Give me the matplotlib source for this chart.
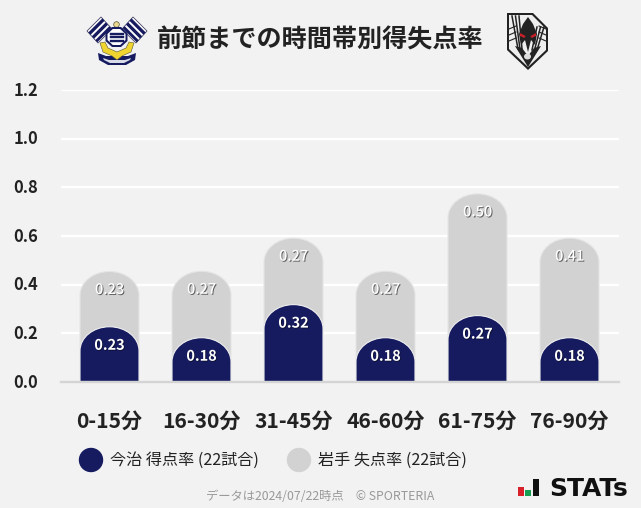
import matplotlib as mpl
mpl.use('Agg')
import matplotlib.pyplot as plt
import matplotlib.patheffects as pe
from matplotlib.patches import PathPatch, Polygon, Circle, Ellipse
from matplotlib.path import Path
from matplotlib.transforms import ScaledTranslation

plt.rcParams['font.family'] = ['Noto Sans CJK JP', 'DejaVu Sans']

periods = ['0-15分', '16-30分', '31-45分', '46-60分', '61-75分', '76-90分']
imabari_scored = [0.227, 0.182, 0.318, 0.182, 0.273, 0.182]
iwate_conceded = [0.227, 0.273, 0.273, 0.273, 0.500, 0.409]
y_ticks = [0.0, 0.2, 0.4, 0.6, 0.8, 1.0, 1.2]

W, H = 641, 508
BG = '#f2f2f2'
NAVY = '#161b60'
GRAY = '#d2d2d2'
BAR_W = 59 / 92
CAP_H = 24 / 243.5  # cap height in data units


def px(size):
    return size * 72 / 100


def round_bar(ax, x, top, color, edge, zorder):
    # bar with an elliptical top
    l, r = x - BAR_W / 2, x + BAR_W / 2
    s = top - CAP_H
    k = 0.5523
    verts = [(l, 0), (l, s),
             (l, s + k * CAP_H), (x - k * BAR_W / 2, top), (x, top),
             (x + k * BAR_W / 2, top), (r, s + k * CAP_H), (r, s),
             (r, 0), (l, 0)]
    codes = [Path.MOVETO, Path.LINETO,
             Path.CURVE4, Path.CURVE4, Path.CURVE4,
             Path.CURVE4, Path.CURVE4, Path.CURVE4,
             Path.LINETO, Path.CLOSEPOLY]
    ax.add_patch(PathPatch(Path(verts, codes), facecolor=color, edgecolor=edge,
                           linewidth=0.8, zorder=zorder))


fig = plt.figure(figsize=(W / 100, H / 100), dpi=100, facecolor=BG)
ax = fig.add_axes([61 / W, 1 - 382 / H, 558 / W, 292 / H], facecolor=BG)
ax.set_xlim(-48.5 / 92, 5 + 49.5 / 92)
ax.set_ylim(0, 1.2)

ax.set_yticks(y_ticks)
ax.set_yticklabels(['%.1f' % v for v in y_ticks], fontsize=px(16.5), fontweight='bold', color='#222222')
ax.set_xticks(range(len(periods)))
ax.set_xticklabels(periods, fontsize=px(21), fontweight='bold', color='#222222')
ax.tick_params(axis='y', length=0, pad=px(22.5))
ax.tick_params(axis='x', length=0, pad=px(29))
up = ScaledTranslation(0, 1.5 / 100, fig.dpi_scale_trans)
for lab in ax.get_yticklabels():
    lab.set_transform(lab.get_transform() + up)
ax.grid(axis='y', color='white', linewidth=px(2.4), zorder=1)
ax.set_axisbelow(True)
for name in ['top', 'right', 'left']:
    ax.spines[name].set_visible(False)
ax.spines['bottom'].set_color('#d4d4d4')
ax.spines['bottom'].set_linewidth(px(2.4))
ax.spines['bottom'].set_zorder(5)

for i, (a, b) in enumerate(zip(imabari_scored, iwate_conceded)):
    round_bar(ax, i, a + b, GRAY, '#e4e4e4', 2)
    round_bar(ax, i, a, NAVY, '#f0f0f0', 3)
    ax.annotate('%.2f' % a, (i, a), xytext=(0, -px(19)), textcoords='offset points',
                ha='center', va='center', fontsize=px(14.5), fontweight='bold', color='white', zorder=6,
                path_effects=[pe.withSimplePatchShadow(offset=(0.6, -0.6), shadow_rgbFace='#000000', alpha=0.5)])
    ax.annotate('%.2f' % b, (i, a + b), xytext=(0, -px(18.5)), textcoords='offset points',
                ha='center', va='center', fontsize=px(14.5), fontweight='medium', color='white', zorder=6,
                path_effects=[pe.withSimplePatchShadow(offset=(0.7, -0.7), shadow_rgbFace='#555555', alpha=0.9)])

# overlay in pixel coordinates for title, logos, legend and footer
ov = fig.add_axes([0, 0, 1, 1])
ov.set_xlim(0, W)
ov.set_ylim(H, 0)
ov.axis('off')
ov.patch.set_alpha(0)

ov.text(320.5, 40, '前節までの時間帯別得失点率', ha='center', va='center',
        fontsize=px(25.1), fontweight='bold', color='#222222')

# legend
ov.add_patch(Circle((91, 460), 11.5, color=NAVY))
ov.text(110, 460, '今治 得点率 (22試合)', ha='left', va='center', fontsize=px(16.1), color='#222222')
ov.add_patch(Circle((299, 460), 11.5, color=GRAY))
ov.text(318, 460, '岩手 失点率 (22試合)', ha='left', va='center', fontsize=px(16.1), color='#222222')

# footer
ov.text(320.5, 496.5, 'データは2024/07/22時点　© SPORTERIA', ha='center', va='center',
        fontsize=px(12.3), color='#999999')


def poly(points, color, z=10, edge='none', lw=0):
    ov.add_patch(Polygon(points, closed=True, facecolor=color, edgecolor=edge, linewidth=lw, zorder=z))


def lerp(p, q, t):
    return (p[0] + (q[0] - p[0]) * t, p[1] + (q[1] - p[1]) * t)


# Imabari crest (simplified)
for sgn in [-1, 1]:
    f = lambda x: 117 + sgn * x
    A, B, C, D = (f(30), 31), (f(16), 17), (f(5), 29), (f(19), 43)
    poly([A, B, C, D], 'white', edge='#444466', lw=0.6)
    for t0, t1 in [(0.12, 0.32), (0.44, 0.64), (0.76, 0.94)]:
        poly([lerp(A, D, t0), lerp(B, C, t0), lerp(B, C, t1), lerp(A, D, t1)], NAVY, z=11)
poly([(100, 43), (105, 42), (108, 48), (117, 52), (126, 48), (129, 42), (134, 43), (131, 52), (122, 56), (117, 60), (112, 56), (103, 52)],
     '#f0d430', z=12, edge='#555533', lw=0.4)
poly([(112, 27), (121, 27), (127.5, 33), (127.5, 41), (121, 47), (112, 47), (105.5, 41), (105.5, 33)], NAVY, z=13)
poly([(112.8, 29), (120.2, 29), (125.5, 34), (125.5, 40), (120.2, 45), (112.8, 45), (107.5, 40), (107.5, 34)], 'white', z=14)
for yy in [33.5, 37, 40.5]:
    ov.plot([110.5, 122.5], [yy, yy], color=NAVY, lw=1.7, zorder=15)
ov.add_patch(Circle((116.5, 24.5), 2.8, facecolor='#e8d890', edgecolor='#555533', linewidth=0.5, zorder=12))
poly([(98, 53), (106, 56), (128, 56), (136, 53), (135, 60), (126, 65), (108, 65), (99, 60)], NAVY, z=11)
poly([(103, 58), (109, 60), (125, 60), (131, 58), (130, 60), (124, 63), (110, 63), (104, 60)], '#d8dce8', z=14)

# Iwate crest (simplified)
poly([(507, 13), (533, 13), (548, 28), (548, 51), (528, 70), (507, 50)], '#222222')
poly([(509, 15), (532, 15), (546, 29), (546, 50), (528, 67), (509, 49)], '#eeeeee', z=10.2)
for x0, x1 in [(512, 517), (515.5, 519), (519, 521)]:
    ov.plot([x0, x1 + 1], [16, 49], color='#222222', lw=1.1, zorder=10.4)
for x0, x1 in [(544, 538), (540.5, 535.5), (537, 533)]:
    ov.plot([x0, x1 - 1], [27, 50], color='#222222', lw=1.1, zorder=10.4)
for yy in [26, 32, 38]:
    ov.plot([509, 516], [yy + 3, yy], color='#222222', lw=0.8, zorder=10.4)
    ov.plot([539, 546], [yy, yy + 3], color='#222222', lw=0.8, zorder=10.4)
poly([(528, 17), (533, 24), (537, 34), (535, 45), (531, 40), (528, 52), (525, 40), (521, 45), (519, 34), (523, 24)], '#222222', z=11)
poly([(515, 46), (522, 48), (528, 56), (534, 48), (541, 46), (528, 67)], '#222222', z=11)
poly([(520, 33), (525.5, 36), (524.5, 38), (520, 36)], '#c8202a', z=12)
poly([(536, 33), (530.5, 36), (531.5, 38), (536, 36)], '#c8202a', z=12)
ov.add_patch(Ellipse((527.5, 56.5), 7, 6, facecolor='#dddddd', zorder=12))

# STATs logo
poly([(518, 487), (524, 487), (524, 496), (518, 496)], '#d8202a')
poly([(525, 490), (531, 490), (531, 496), (525, 496)], '#14a050')
poly([(532.5, 479), (539, 479), (539, 496), (532.5, 496)], '#111111')
ov.text(549, 496, 'STATs', ha='left', va='baseline', fontsize=px(25), fontweight='bold',
        family='DejaVu Sans', color='#111111')

plt.savefig('out.png', dpi=100, facecolor=BG)
plt.close()
